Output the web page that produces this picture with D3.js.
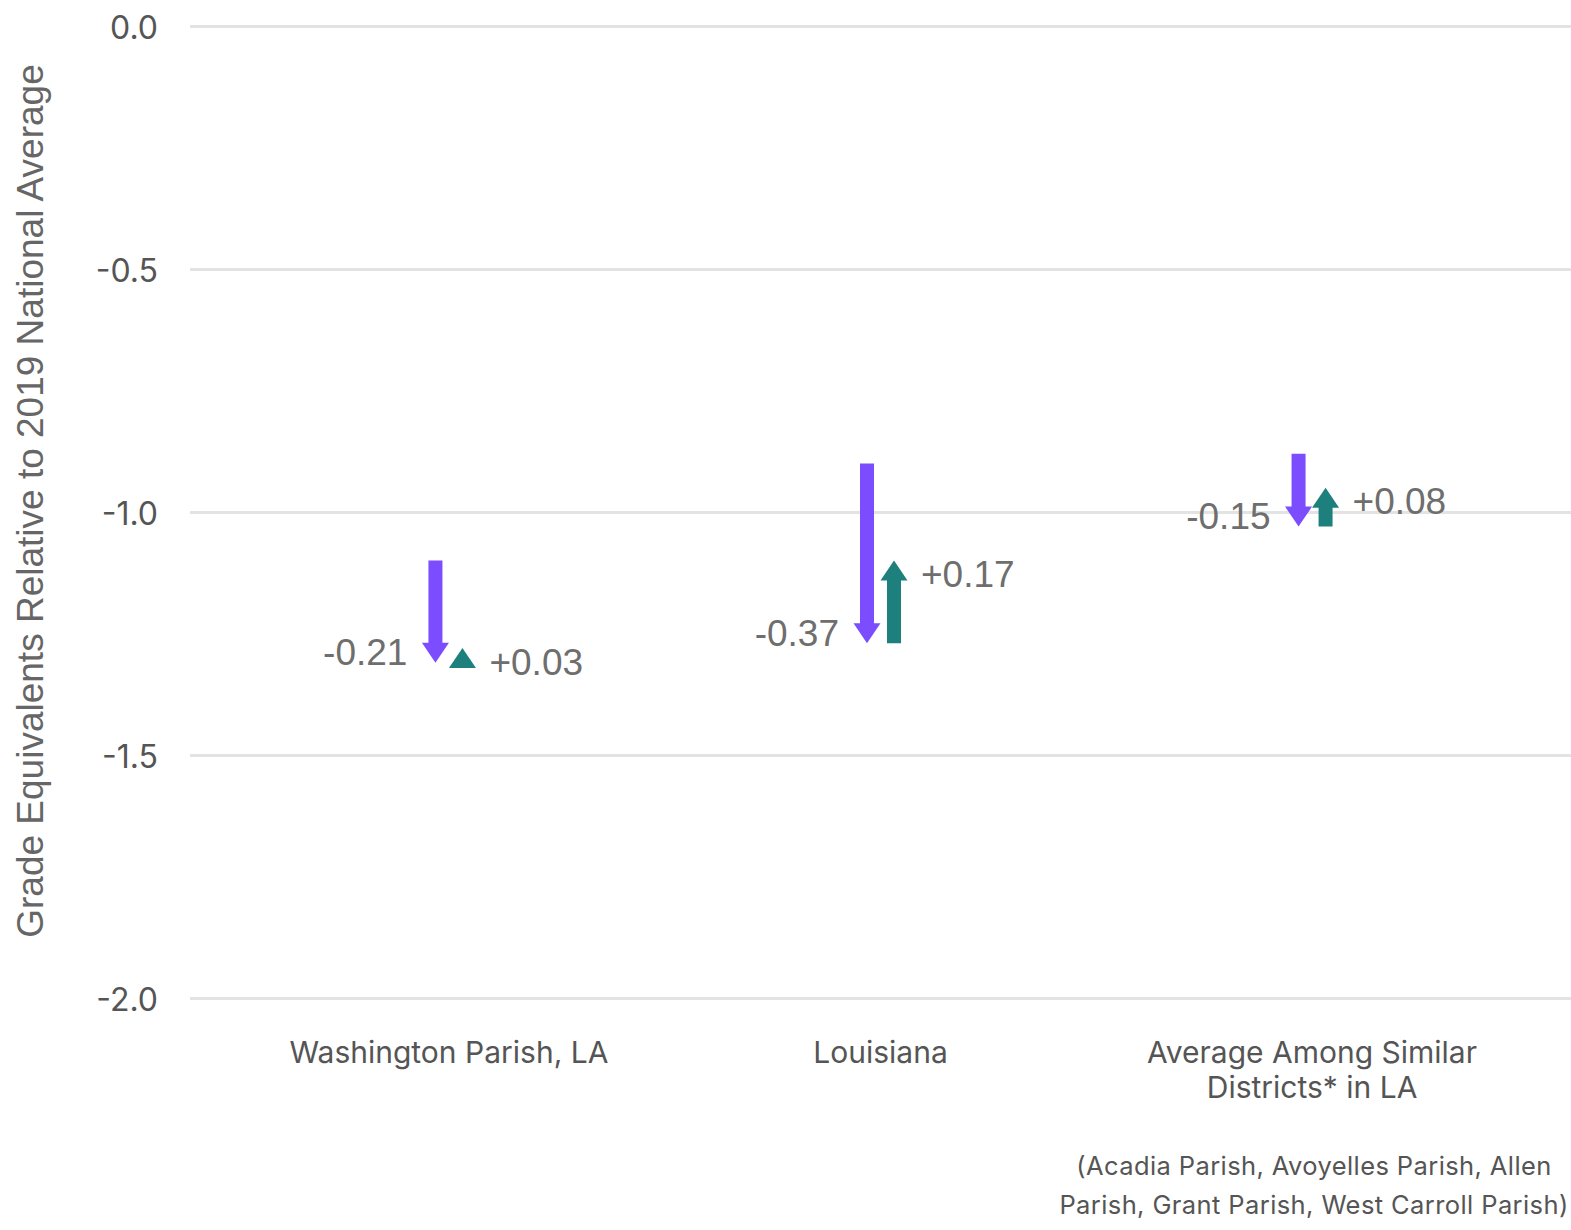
<!DOCTYPE html>
<html>
<head>
<meta charset="utf-8">
<script src="https://cdn.jsdelivr.net/npm/d3@7"></script>
<style>
  body { margin: 0; background: #fff; }
  .axis path { display: none; }
  .axis line { stroke: #e3e3e3; stroke-width: 3; }
  .axis text { font-family: Inter, "Noto Sans", sans-serif; font-size: 32px; fill: #555; }
</style>
</head>
<body>
<div id="chart"></div>
<script>
// Learning change per place: 2019->2022 decline (purple), 2022->2023 recovery (teal).
const categories = ["Washington Parish, LA", "Louisiana", "Average Among Similar Districts* in LA"];
const categoryLines = [["Washington Parish, LA"], ["Louisiana"], ["Average Among Similar", "Districts* in LA"]];
const start2019 = [-1.10, -0.90, -0.88];
const decline = [-0.21, -0.37, -0.15];
const recovery = [0.03, 0.17, 0.08];
const yTicks = [0, -0.5, -1.0, -1.5, -2.0];
const footnote = ["(Acadia Parish, Avoyelles Parish, Allen", "Parish, Grant Parish, West Carroll Parish)"];

const PURPLE = "#7c4dff", TEAL = "#1e807d";

(function () {
  "use strict";
  const W = 1571, H = 1230, m = { t: 26, r: 0, b: 232, l: 190 };
  const svg = d3.select("#chart").append("svg").attr("width", W).attr("height", H);

  const x = d3.scalePoint().domain(categories).range([m.l, W - m.r]).padding(0.6);
  const y = d3.scaleLinear().domain([-2, 0]).range([H - m.b, m.t]);

  const ax = svg.append("g").attr("class", "axis").attr("transform", `translate(${m.l},0)`)
    .call(d3.axisLeft(y).tickValues(yTicks).tickSize(-(W - m.l - m.r)).tickPadding(32)
      .tickFormat((d) => d.toFixed(1)));
  ax.selectAll(".tick text").attr("dy", "0.38em");

  // y title
  svg.append("text").attr("transform", `translate(33,501) rotate(-90)`)
    .attr("text-anchor", "middle").attr("dominant-baseline", "middle")
    .style("font-family", "'Liberation Sans', Arial, sans-serif").style("font-size", "37px").attr("fill", "#666")
    .text("Grade Equivalents Relative to 2019 National Average");

  // category labels
  categories.forEach((c, i) => {
    const t = svg.append("text").attr("x", x(c)).attr("y", 1063).attr("text-anchor", "middle")
      .style("font-family", "Inter, sans-serif").style("font-size", "30px").attr("fill", "#555");
    categoryLines[i].forEach((ln, j) => t.append("tspan").attr("x", x(c)).attr("dy", j ? 35 : 0).text(ln));
  });

  const fn = svg.append("text").attr("y", 1175).attr("text-anchor", "middle")
    .style("font-family", "Inter, sans-serif").style("font-size", "25.5px").style("letter-spacing", "0.4px").attr("fill", "#555");
  footnote.forEach((ln, j) => fn.append("tspan").attr("x", 1314).attr("dy", j ? 39 : 0).text(ln));

  // vertical arrow polygon from value v0 to v1 (tip at v1)
  const headLen = 20, halfHead = 13.5, halfShaft = 7;
  function arrow(cx, v0, v1) {
    const y0 = y(v0), y1 = y(v1);
    const dir = y1 > y0 ? 1 : -1;
    const yb = y1 - dir * headLen;
    const pts = [];
    if (Math.abs(y1 - y0) > headLen) {
      pts.push([cx - halfShaft, y0], [cx + halfShaft, y0], [cx + halfShaft, yb]);
      pts.push([cx + halfHead, yb], [cx, y1], [cx - halfHead, yb], [cx - halfShaft, yb]);
    } else {
      pts.push([cx - halfHead, yb], [cx + halfHead, yb], [cx, y1]);
    }
    return "M" + pts.map((p) => p.join(",")).join("L") + "Z";
  }

  const lbl = (g) => g.style("font-family", "'Liberation Sans', Arial, sans-serif").style("font-size", "37px")
    .attr("fill", "#6e6e6e").attr("dominant-baseline", "central");

  categories.forEach((c, i) => {
    const cx = x(c);
    const vEnd = start2019[i] + decline[i];
    const vRec = vEnd + recovery[i];
    svg.append("path").attr("d", arrow(cx - 13.5, start2019[i], vEnd)).attr("fill", PURPLE);
    svg.append("path").attr("d", arrow(cx + 13.5, vEnd, vRec)).attr("fill", TEAL);
    svg.append("text").call(lbl).attr("x", cx - 13.5 - 28).attr("y", y(vEnd) - 10)
      .attr("text-anchor", "end").text(decline[i].toFixed(2));
    svg.append("text").call(lbl).attr("x", cx + 13.5 + 27).attr("y", y(vRec) + 14)
      .attr("text-anchor", "start").text("+" + recovery[i].toFixed(2));
  });
})();
</script>
</body>
</html>
